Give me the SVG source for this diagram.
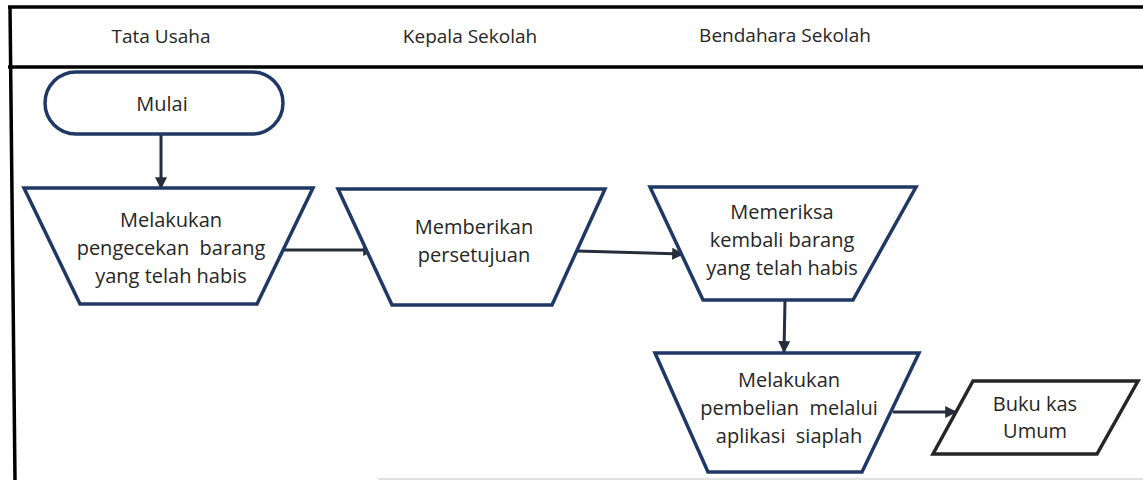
<svg xmlns="http://www.w3.org/2000/svg" width="1143" height="480" viewBox="0 0 1143 480">
<style>
.frame{stroke:#000;stroke-width:3.5;fill:none}
.node{fill:#fff;stroke:#1f3864;stroke-width:3.5;stroke-linejoin:miter}
.doc{fill:#fff;stroke:#262626;stroke-width:3.5}
.lbl{font-family:"Open Sans",sans-serif;font-size:20px;fill:#262626;text-anchor:middle;white-space:pre}
.hdr{font-family:"Open Sans",sans-serif;font-size:19px;fill:#262626;text-anchor:middle}
.conn{stroke:#262e3b;stroke-width:3;fill:none;marker-end:url(#ah)}
</style>
<defs>
<marker id="ah" viewBox="0 0 10 10" refX="9" refY="5" markerWidth="4" markerHeight="4" orient="auto" markerUnits="strokeWidth">
<path d="M0,0 L10,5 L0,10 z" fill="#262e3b"/>
</marker>
</defs>
<rect width="1143" height="480" fill="#fff"/>
<g id="frame">
<line class="frame" x1="8" y1="7" x2="1143" y2="7"/>
<line class="frame" x1="8" y1="67" x2="1143" y2="67"/>
<line class="frame" x1="10" y1="6" x2="15" y2="480"/>
<line x1="378" y1="479" x2="1143" y2="479" stroke="#d9d9d9" stroke-width="1.5"/>
<text class="hdr" x="161" y="43">Tata Usaha</text>
<text class="hdr" x="470" y="43">Kepala Sekolah</text>
<text class="hdr" x="785" y="42">Bendahara Sekolah</text>
</g>
<g id="connectors">
<line class="conn" x1="161" y1="134" x2="161" y2="188"/>
<line class="conn" x1="283" y1="250" x2="374" y2="250"/>
<line class="conn" x1="577" y1="251" x2="683" y2="254"/>
<line class="conn" x1="785" y1="300" x2="784" y2="352"/>
<line class="conn" x1="893" y1="412" x2="956" y2="412"/>
</g>
<g id="mulai">
<rect class="node" x="45" y="72" width="238" height="62" rx="31" ry="31"/>
<text class="lbl" x="162" y="111">Mulai</text>
</g>
<g id="pengecekan">
<polygon class="node" points="24,188 313,188 257,304 80,304"/>
<text class="lbl" x="171" y="227">Melakukan</text>
<text class="lbl" x="171" y="255" xml:space="preserve">pengecekan  barang</text>
<text class="lbl" x="171" y="283">yang telah habis</text>
</g>
<g id="persetujuan">
<polygon class="node" points="338,189 605,189 552,305 392,305"/>
<text class="lbl" x="474" y="234">Memberikan</text>
<text class="lbl" x="474" y="262">persetujuan</text>
</g>
<g id="memeriksa">
<polygon class="node" points="650,187 916,187 853,300 703,300"/>
<text class="lbl" x="782" y="219">Memeriksa</text>
<text class="lbl" x="782" y="247">kembali barang</text>
<text class="lbl" x="782" y="275">yang telah habis</text>
</g>
<g id="pembelian">
<polygon class="node" points="655,353 919,353 862,472 708,472"/>
<text class="lbl" x="789" y="387">Melakukan</text>
<text class="lbl" x="789" y="415" xml:space="preserve">pembelian  melalui</text>
<text class="lbl" x="789" y="443" xml:space="preserve">aplikasi  siaplah</text>
</g>
<g id="bukukas">
<polygon class="doc" points="973,381 1138,381 1097,454 933,454"/>
<text class="lbl" x="1035" y="411">Buku kas</text>
<text class="lbl" x="1035" y="438">Umum</text>
</g>
</svg>
